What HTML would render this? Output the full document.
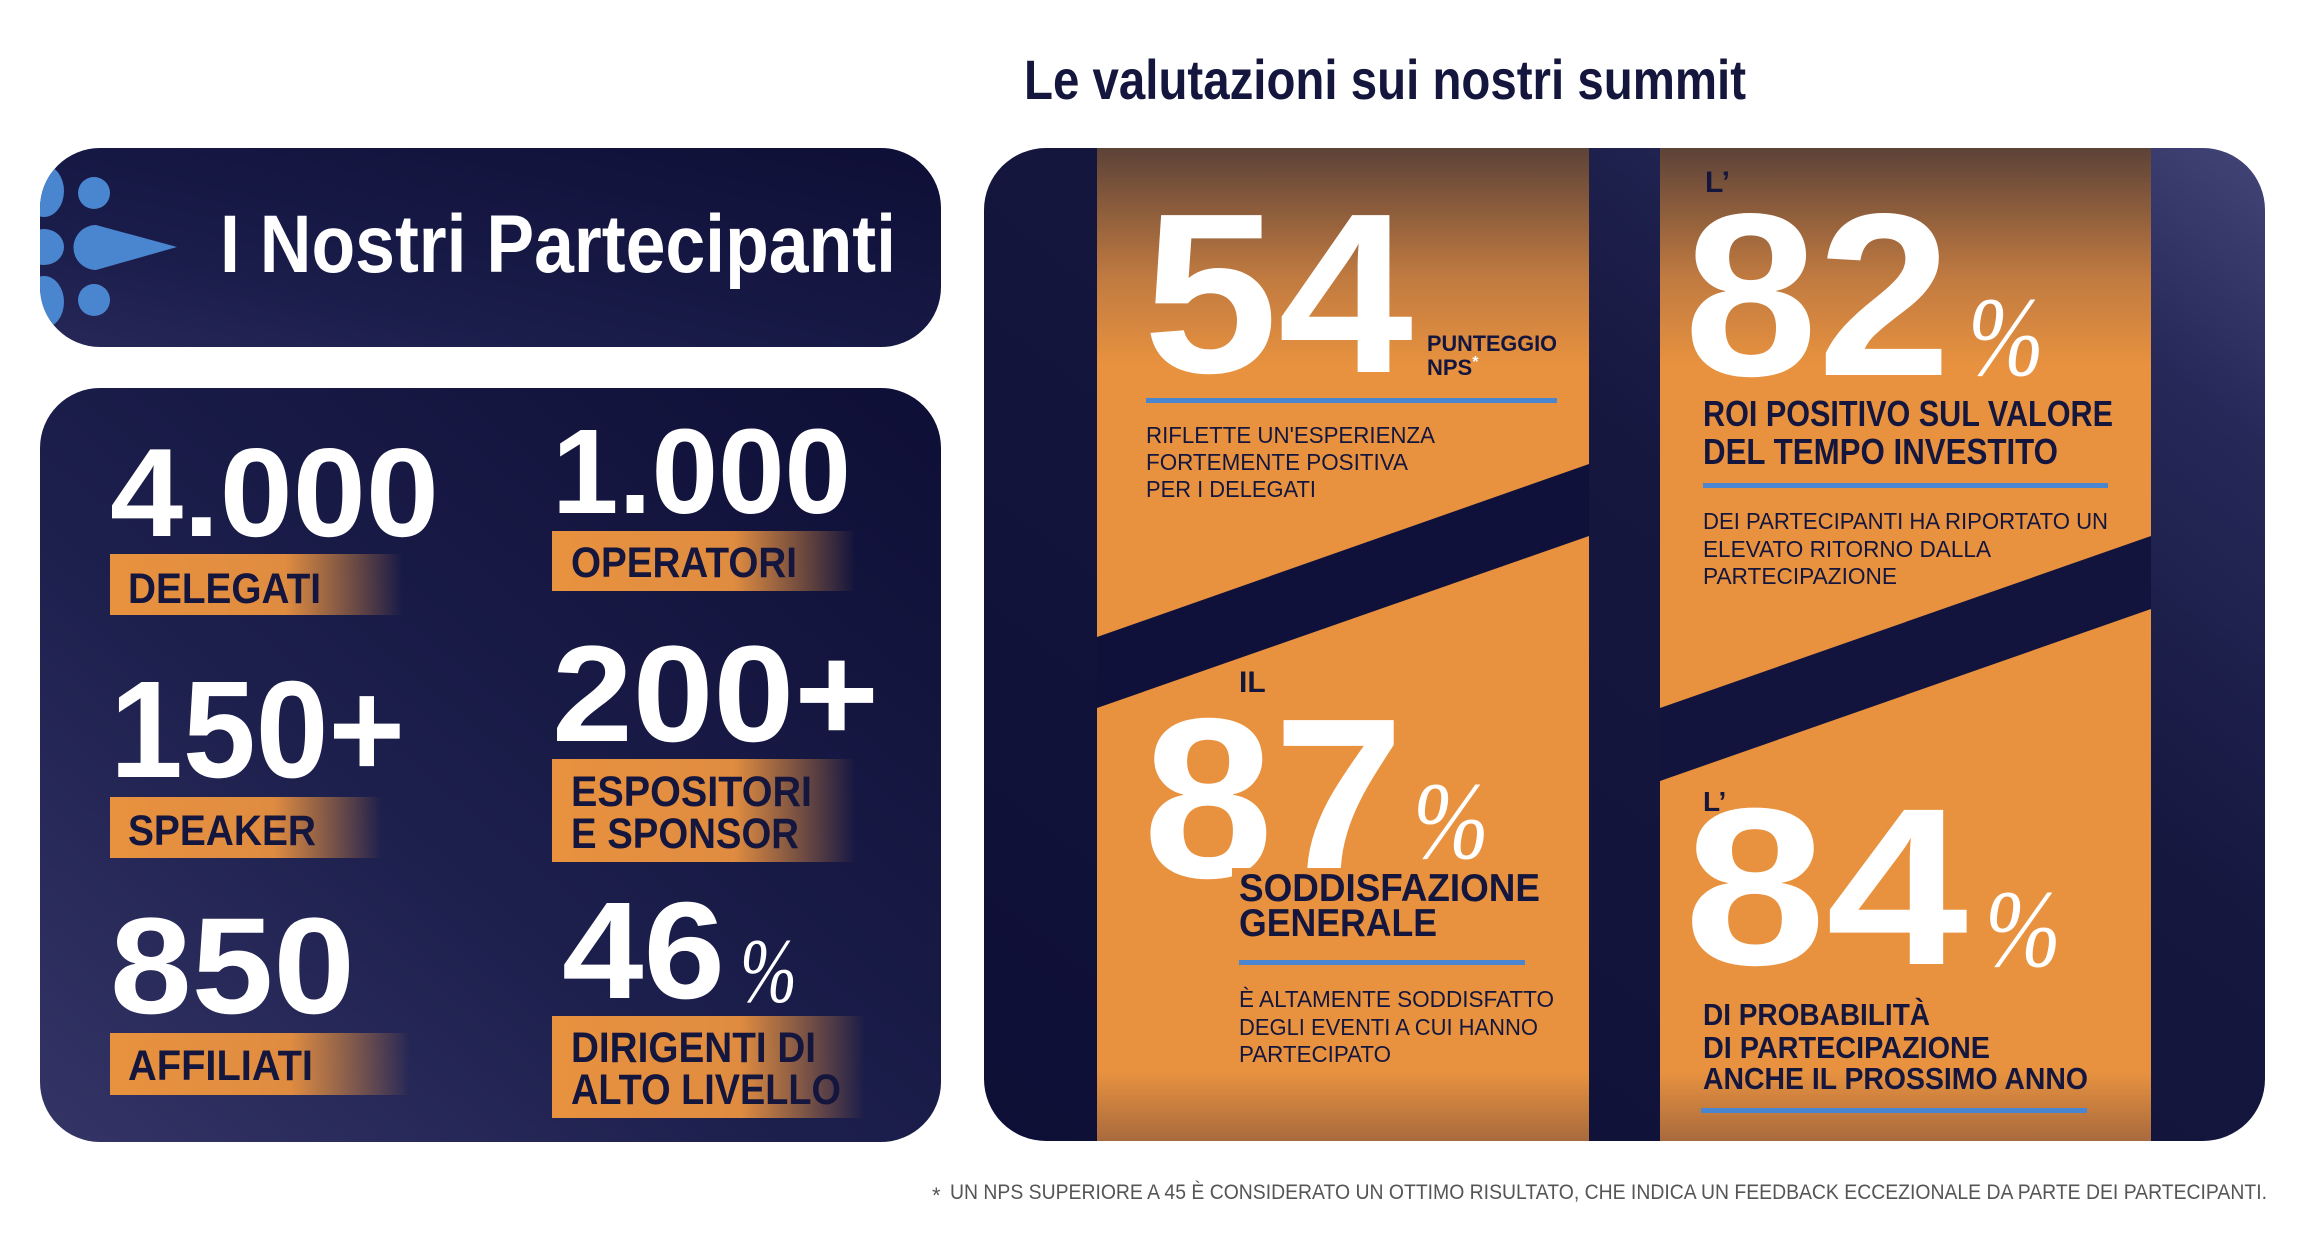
<!DOCTYPE html>
<html><head><meta charset="utf-8"><style>
html,body{margin:0;padding:0;background:#fff;}
svg{display:block;}
text{font-family:"Liberation Sans",sans-serif;}
.w{fill:#fff;font-weight:bold;}
.d{fill:#14163d;font-weight:bold;}
.s{fill:#14163d;font-size:23px;}
.pc{font-family:"Liberation Serif",serif;font-style:italic;fill:#fff;}
</style></head><body>
<svg width="2310" height="1237" viewBox="0 0 2310 1237">
<defs>
<linearGradient id="lp" x1="1" y1="0" x2="0" y2="1">
<stop offset="0" stop-color="#0e0f36"/><stop offset="0.6" stop-color="#1d1f4d"/><stop offset="1" stop-color="#343566"/>
</linearGradient>
<linearGradient id="hp" x1="1" y1="0" x2="0" y2="1">
<stop offset="0" stop-color="#0e0f36"/><stop offset="0.7" stop-color="#1a1c4a"/><stop offset="1" stop-color="#272858"/>
</linearGradient>
<linearGradient id="rp" x1="0" y1="1" x2="1" y2="0">
<stop offset="0" stop-color="#0e0f36"/><stop offset="0.6" stop-color="#15173f"/><stop offset="0.85" stop-color="#262858"/><stop offset="1" stop-color="#434578"/>
</linearGradient>
<linearGradient id="og" x1="0" y1="0" x2="0" y2="1">
<stop offset="0" stop-color="#5c4238"/><stop offset="0.13" stop-color="#c07a40"/><stop offset="0.22" stop-color="#e8923f"/><stop offset="0.93" stop-color="#e8923f"/><stop offset="1" stop-color="#a86a3e"/>
</linearGradient>
<linearGradient id="bar" x1="0" y1="0" x2="1" y2="0">
<stop offset="0" stop-color="#e8923f"/><stop offset="0.6" stop-color="#e08c40"/><stop offset="1" stop-color="#e8923f" stop-opacity="0"/>
</linearGradient>
<clipPath id="hc"><rect x="40" y="148" width="901" height="199" rx="60"/></clipPath>
<clipPath id="rc"><rect x="984" y="148" width="1281" height="993" rx="62"/></clipPath>
</defs>

<g>
<rect x="40" y="148" width="901" height="199" rx="60" fill="url(#hp)"/>
<g clip-path="url(#hc)" fill="#4a86d0">
<circle cx="94" cy="193" r="16"/><circle cx="94" cy="300" r="16"/>
<path d="M96 225 L177 247 L96 270 A22.5 22.5 0 0 1 96 225 Z"/>
<ellipse cx="44" cy="191" rx="20" ry="26"/><ellipse cx="44" cy="247" rx="20" ry="18"/><ellipse cx="44" cy="302" rx="20" ry="26"/>
</g>
<text class="w" x="220" y="272" font-size="82" textLength="676" lengthAdjust="spacingAndGlyphs">I Nostri Partecipanti</text>
</g>

<g>
<rect x="40" y="388" width="901" height="754" rx="60" fill="url(#lp)"/>
<text class="w" x="110" y="536" font-size="126" textLength="329" lengthAdjust="spacingAndGlyphs">4.000</text>
<rect x="110" y="554" width="292" height="61" fill="url(#bar)"/>
<text class="d" x="128" y="603" font-size="43" textLength="193" lengthAdjust="spacingAndGlyphs">DELEGATI</text>

<text class="w" x="552" y="513" font-size="121" textLength="299" lengthAdjust="spacingAndGlyphs">1.000</text>
<rect x="552" y="531" width="303" height="60" fill="url(#bar)"/>
<text class="d" x="571" y="577" font-size="43" textLength="226" lengthAdjust="spacingAndGlyphs">OPERATORI</text>

<text class="w" x="110" y="777" font-size="138" textLength="295" lengthAdjust="spacingAndGlyphs">150+</text>
<rect x="110" y="797" width="272" height="61" fill="url(#bar)"/>
<text class="d" x="128" y="845" font-size="43" textLength="188" lengthAdjust="spacingAndGlyphs">SPEAKER</text>

<text class="w" x="552" y="741" font-size="137" textLength="327" lengthAdjust="spacingAndGlyphs">200+</text>
<rect x="552" y="759" width="303" height="103" fill="url(#bar)"/>
<text class="d" x="571" y="806" font-size="43" textLength="241" lengthAdjust="spacingAndGlyphs">ESPOSITORI</text>
<text class="d" x="571" y="848" font-size="43" textLength="228" lengthAdjust="spacingAndGlyphs">E SPONSOR</text>

<text class="w" x="110" y="1013" font-size="137" textLength="245" lengthAdjust="spacingAndGlyphs">850</text>
<rect x="110" y="1033" width="300" height="62" fill="url(#bar)"/>
<text class="d" x="128" y="1080" font-size="43" textLength="185" lengthAdjust="spacingAndGlyphs">AFFILIATI</text>

<text class="w" x="562" y="998" font-size="138" textLength="163" lengthAdjust="spacingAndGlyphs">46</text>
<text class="pc" x="740" y="1002" font-size="92" textLength="57" lengthAdjust="spacingAndGlyphs">%</text>
<rect x="552" y="1016" width="313" height="102" fill="url(#bar)"/>
<text class="d" x="571" y="1062" font-size="43" textLength="245" lengthAdjust="spacingAndGlyphs">DIRIGENTI DI</text>
<text class="d" x="571" y="1104" font-size="43" textLength="270" lengthAdjust="spacingAndGlyphs">ALTO LIVELLO</text>
</g>

<text x="1024" y="99" font-size="56" font-weight="bold" fill="#14163d" textLength="722" lengthAdjust="spacingAndGlyphs">Le valutazioni sui nostri summit</text>

<g>
<rect x="984" y="148" width="1281" height="993" rx="62" fill="url(#rp)"/>
<g clip-path="url(#rc)">
<rect x="1097" y="148" width="492" height="993" fill="url(#og)"/>
<rect x="1660" y="148" width="491" height="993" fill="url(#og)"/>
<polygon points="1097,637 1589,464 1589,536 1097,708" fill="#10113a"/>
<polygon points="1660,708 2151,536 2151,609 1660,781" fill="#12143d"/>
</g>

<text class="w" x="1143" y="372" font-size="228" textLength="270" lengthAdjust="spacingAndGlyphs">54</text>
<text class="d" x="1427" y="351" font-size="22" textLength="130" lengthAdjust="spacingAndGlyphs">PUNTEGGIO</text>
<text class="d" x="1427" y="375" font-size="22">NPS<tspan fill="#fff" font-size="16" dy="-8">*</tspan></text>
<rect x="1146" y="398" width="411" height="5" fill="#4a86d0"/>
<text class="s" x="1146" y="443" textLength="289" lengthAdjust="spacingAndGlyphs">RIFLETTE UN'ESPERIENZA</text>
<text class="s" x="1146" y="470" textLength="262" lengthAdjust="spacingAndGlyphs">FORTEMENTE POSITIVA</text>
<text class="s" x="1146" y="497" textLength="170" lengthAdjust="spacingAndGlyphs">PER I DELEGATI</text>

<text class="d" x="1705" y="192" font-size="30">L’</text>
<text class="w" x="1684" y="375" font-size="232" textLength="267" lengthAdjust="spacingAndGlyphs">82</text>
<text class="pc" x="1968" y="375" font-size="113" textLength="76" lengthAdjust="spacingAndGlyphs">%</text>
<text class="d" x="1703" y="426" font-size="36" textLength="410" lengthAdjust="spacingAndGlyphs">ROI POSITIVO SUL VALORE</text>
<text class="d" x="1703" y="464" font-size="36" textLength="355" lengthAdjust="spacingAndGlyphs">DEL TEMPO INVESTITO</text>
<rect x="1703" y="483" width="405" height="5" fill="#4a86d0"/>
<text class="s" x="1703" y="529" textLength="405" lengthAdjust="spacingAndGlyphs">DEI PARTECIPANTI HA RIPORTATO UN</text>
<text class="s" x="1703" y="557" textLength="288" lengthAdjust="spacingAndGlyphs">ELEVATO RITORNO DALLA</text>
<text class="s" x="1703" y="584" textLength="194" lengthAdjust="spacingAndGlyphs">PARTECIPAZIONE</text>

<text class="d" x="1239" y="692" font-size="30">IL</text>
<text class="w" x="1143" y="877" font-size="228" textLength="261" lengthAdjust="spacingAndGlyphs">87</text>
<text class="pc" x="1413" y="858" font-size="110" textLength="76" lengthAdjust="spacingAndGlyphs">%</text>
<rect x="1232" y="868" width="330" height="26" fill="#e8923f"/>
<text class="d" x="1239" y="901" font-size="39" textLength="301" lengthAdjust="spacingAndGlyphs">SODDISFAZIONE</text>
<text class="d" x="1239" y="936" font-size="39" textLength="198" lengthAdjust="spacingAndGlyphs">GENERALE</text>
<rect x="1239" y="960" width="286" height="5" fill="#4a86d0"/>
<text class="s" x="1239" y="1007" textLength="315" lengthAdjust="spacingAndGlyphs">È ALTAMENTE SODDISFATTO</text>
<text class="s" x="1239" y="1035" textLength="299" lengthAdjust="spacingAndGlyphs">DEGLI EVENTI A CUI HANNO</text>
<text class="s" x="1239" y="1062" textLength="152" lengthAdjust="spacingAndGlyphs">PARTECIPATO</text>

<text class="d" x="1703" y="811" font-size="28">L’</text>
<text class="w" x="1684" y="964" font-size="224" textLength="284" lengthAdjust="spacingAndGlyphs">84</text>
<text class="pc" x="1985" y="966" font-size="110" textLength="76" lengthAdjust="spacingAndGlyphs">%</text>
<text class="d" x="1703" y="1025" font-size="31" textLength="227" lengthAdjust="spacingAndGlyphs">DI PROBABILITÀ</text>
<text class="d" x="1703" y="1058" font-size="31" textLength="287" lengthAdjust="spacingAndGlyphs">DI PARTECIPAZIONE</text>
<text class="d" x="1703" y="1089" font-size="31" textLength="385" lengthAdjust="spacingAndGlyphs">ANCHE IL PROSSIMO ANNO</text>
<rect x="1701" y="1108" width="386" height="5" fill="#4a86d0"/>
</g>

<text x="932" y="1203" font-size="22" fill="#555">*</text>
<text x="950" y="1199" font-size="21" fill="#555" textLength="1317" lengthAdjust="spacingAndGlyphs">UN NPS SUPERIORE A 45 È CONSIDERATO UN OTTIMO RISULTATO, CHE INDICA UN FEEDBACK ECCEZIONALE DA PARTE DEI PARTECIPANTI.</text>
</svg>
</body></html>
